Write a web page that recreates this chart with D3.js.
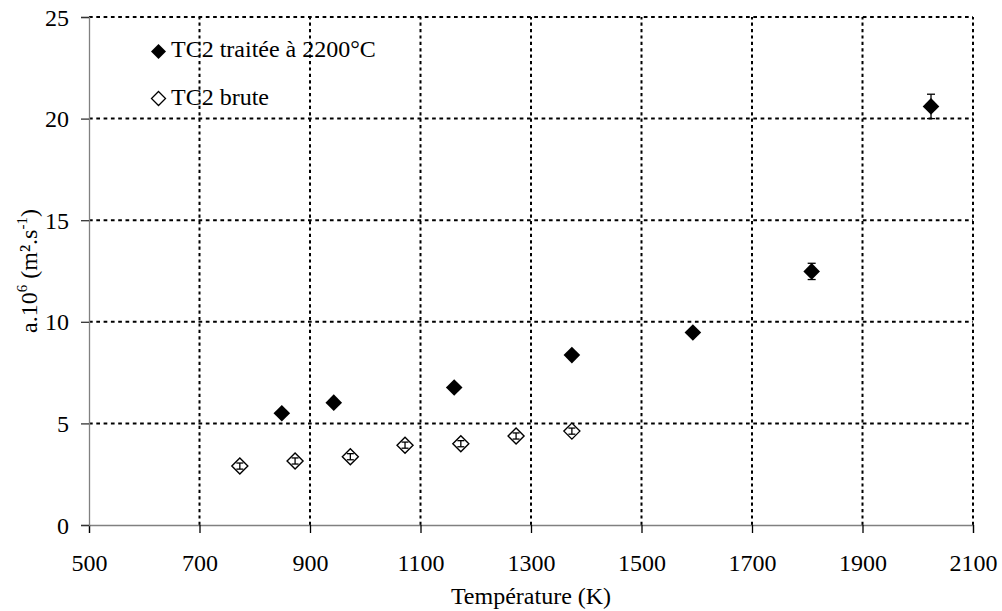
<!DOCTYPE html>
<html>
<head>
<meta charset="utf-8">
<script src="https://cdn.jsdelivr.net/npm/d3@7"></script>
<style>
  html, body { margin: 0; padding: 0; background: #fff; }
  svg { display: block; }
  text { font-family: "Liberation Serif", "Times New Roman", serif; fill: #000; }
</style>
</head>
<body>
<svg id="chart" width="1002" height="611"></svg>
<script>
// ---- Data ----
const xTicks = [500, 700, 900, 1100, 1300, 1500, 1700, 1900, 2100];
const yTicks = [0, 5, 10, 15, 20, 25];

const treatedLabel = "TC2 traitée à 2200°C";
const treatedT   = [849, 943, 1161, 1374, 1593, 1808, 2024];
const treatedA   = [5.5, 6.02, 6.77, 8.36, 9.47, 12.48, 20.6];
const treatedErr = [0.1, 0.1, 0.1, 0.12, 0.15, 0.4, 0.6];

const rawLabel = "TC2 brute";
const rawT   = [773, 873, 973, 1072, 1173, 1273, 1374];
const rawA   = [2.9, 3.15, 3.36, 3.93, 4.0, 4.38, 4.62];
const rawErr = [0.15, 0.15, 0.15, 0.15, 0.15, 0.15, 0.15];

const xTitle = "Température (K)";

// ---- Layout ----
const svg = d3.select("#chart");
const margin = {left: 89, right: 29, top: 17, bottom: 86};
const W = 1002, H = 611;
const x = d3.scaleLinear().domain([500, 2100]).range([margin.left, W - margin.right]);
const y = d3.scaleLinear().domain([0, 25]).range([H - margin.bottom, margin.top]);

const fs = 24;

// Grid lines (dotted)
const grid = svg.append("g");
grid.selectAll("line.h").data(yTicks.filter(d => d > 0)).enter().append("line")
  .attr("x1", x(500)).attr("x2", x(2100))
  .attr("y1", d => y(d)).attr("y2", d => y(d))
  .attr("stroke", "#000").attr("stroke-width", 2)
  .attr("stroke-dasharray", "3.7,3.6");
grid.selectAll("line.v").data(xTicks.filter(d => d > 500)).enter().append("line")
  .attr("x1", d => x(d)).attr("x2", d => x(d))
  .attr("y1", y(0)).attr("y2", y(25))
  .attr("stroke", "#000").attr("stroke-width", 2)
  .attr("stroke-dasharray", "3.2,3.2");

// Axes
const xAxis = d3.axisBottom(x).tickValues(xTicks).tickSize(8).tickFormat(d3.format("d"));
const yAxis = d3.axisLeft(y).tickValues(yTicks).tickSize(8).tickFormat(d3.format("d"));

const gx = svg.append("g").attr("transform", `translate(0,${y(0)})`).call(xAxis);
gx.select(".domain").attr("stroke", "#808080").attr("stroke-width", 1.3);
gx.selectAll(".tick line").attr("stroke", "#000").attr("stroke-width", 1.3);
gx.selectAll(".tick text").attr("font-size", fs).attr("font-family", "Liberation Serif")
  .attr("y", 46).attr("dy", 0);

const gy = svg.append("g").attr("transform", `translate(${x(500)},0)`).call(yAxis);
gy.select(".domain").attr("stroke", "#808080").attr("stroke-width", 1.3);
gy.selectAll(".tick line").attr("stroke", "#333").attr("stroke-width", 1.3);
gy.selectAll(".tick text").attr("font-size", fs).attr("font-family", "Liberation Serif")
  .attr("x", -20).attr("dy", 8);

// Diamond path generator
function diamond(cx, cy, r) {
  return `M${cx},${cy - r}L${cx + r},${cy}L${cx},${cy + r}L${cx - r},${cy}Z`;
}

// Error bars helper
function errBars(g, T, A, E, cap) {
  const eb = g.selectAll("g.eb").data(T.map((t, i) => ({t, a: A[i], e: E[i]}))).enter().append("g");
  eb.append("line").attr("x1", d => x(d.t)).attr("x2", d => x(d.t))
    .attr("y1", d => y(d.a - d.e)).attr("y2", d => y(d.a + d.e))
    .attr("stroke", "#000").attr("stroke-width", 1.3);
  eb.append("line").attr("x1", d => x(d.t) - cap).attr("x2", d => x(d.t) + cap)
    .attr("y1", d => y(d.a - d.e)).attr("y2", d => y(d.a - d.e))
    .attr("stroke", "#000").attr("stroke-width", 1.3);
  eb.append("line").attr("x1", d => x(d.t) - cap).attr("x2", d => x(d.t) + cap)
    .attr("y1", d => y(d.a + d.e)).attr("y2", d => y(d.a + d.e))
    .attr("stroke", "#000").attr("stroke-width", 1.3);
}

// Treated series (filled)
const gT = svg.append("g");
errBars(gT, treatedT, treatedA, treatedErr, 4);
gT.selectAll("path").data(treatedT.map((t, i) => ({t, a: treatedA[i]}))).enter().append("path")
  .attr("d", d => diamond(x(d.t), y(d.a), 8.3))
  .attr("fill", "#000");

// Raw series (open)
const gR = svg.append("g");
gR.selectAll("path").data(rawT.map((t, i) => ({t, a: rawA[i]}))).enter().append("path")
  .attr("d", d => diamond(x(d.t), y(d.a), 8))
  .attr("fill", "#fff").attr("stroke", "#000").attr("stroke-width", 1.4);
errBars(gR, rawT, rawA, rawErr, 3.5);

// Legend
const leg = svg.append("g");
leg.append("path").attr("d", diamond(158.5, 51.5, 7.5)).attr("fill", "#000");
leg.append("text").attr("x", 171).attr("y", 57).attr("font-size", fs).text(treatedLabel);
leg.append("path").attr("d", diamond(158.5, 98.5, 7)).attr("fill", "#fff")
  .attr("stroke", "#000").attr("stroke-width", 1.3);
leg.append("text").attr("x", 171).attr("y", 105).attr("font-size", fs).text(rawLabel);

// X title
svg.append("text").attr("x", (x(500) + x(2100)) / 2).attr("y", 604)
  .attr("text-anchor", "middle").attr("font-size", fs).text(xTitle);

// Y title
const yt = svg.append("text")
  .attr("transform", `translate(37,${(y(0) + y(25)) / 2}) rotate(-90)`)
  .attr("text-anchor", "middle").attr("font-size", fs);
yt.append("tspan").text("a.10");
yt.append("tspan").attr("font-size", 15).attr("dy", -10).text("6");
yt.append("tspan").attr("dy", 10).text(" (m².s");
yt.append("tspan").attr("font-size", 15).attr("dy", -10).text("-1");
yt.append("tspan").attr("dy", 10).text(")");
</script>
</body>
</html>
